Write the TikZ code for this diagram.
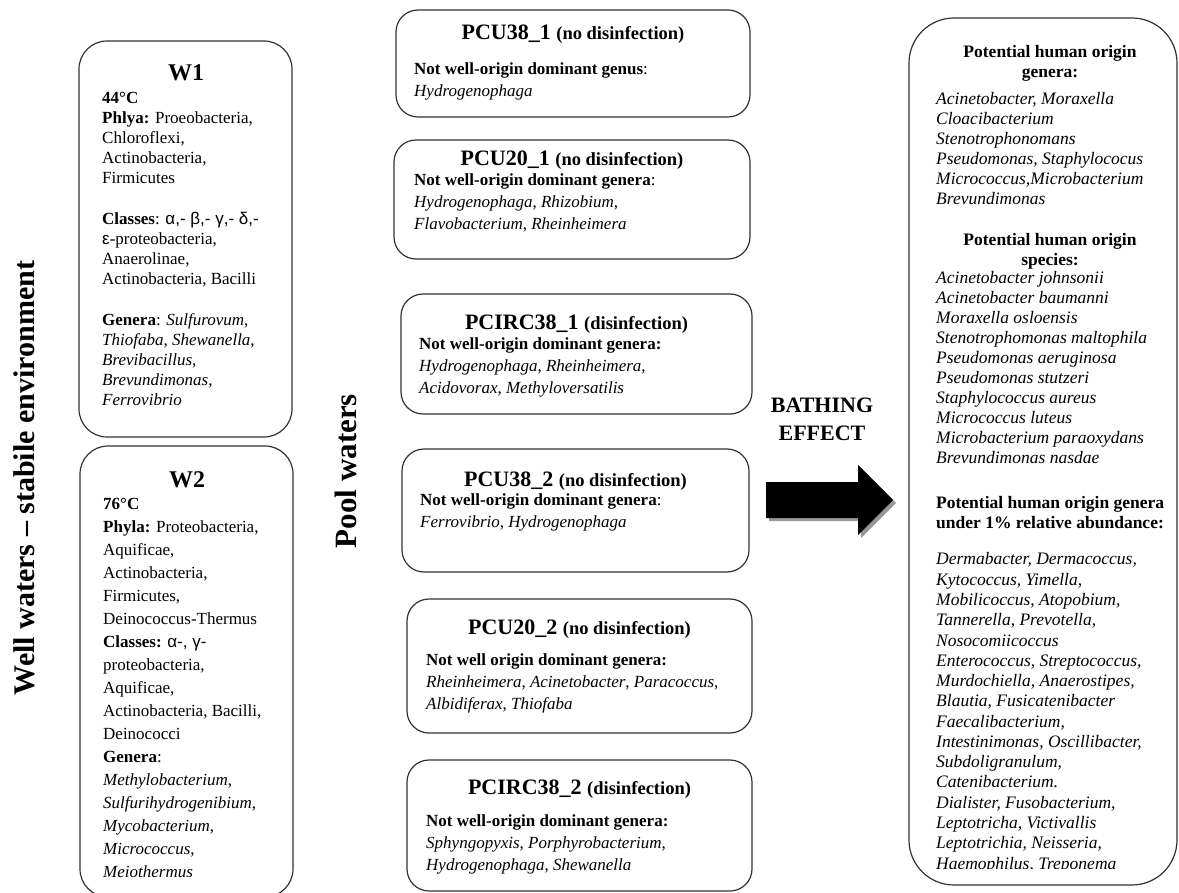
\documentclass[tikz,border=0pt]{standalone}
\usepackage{fontspec}
\setmainfont{Liberation Serif}
\newfontfamily\grk{Liberation Sans}
\begin{document}
\begin{tikzpicture}[x=1pt,y=-1pt,
  rbox/.style={draw=black!80, line width=1.2pt, rounded corners=#1, inner sep=0pt},
  rbox/.default=22pt,
  txt/.style={inner sep=0pt, anchor=base west, align=left, font=\fontsize{17}{20.2}\selectfont},
  wtxt/.style={txt, font=\fontsize{17}{23}\selectfont},
  ptxt/.style={txt, font=\fontsize{17}{22}\selectfont},
  ritxt/.style={txt, font=\itshape\fontsize{17.5}{20.1}\selectfont},
  rhead/.style={inner sep=0pt, anchor=base, align=center, font=\bfseries\fontsize{17.5}{20}\selectfont},
  wtitle/.style={inner sep=0pt, anchor=base, font=\bfseries\fontsize{24}{26}\selectfont},
  ptitle/.style={inner sep=0pt, anchor=base, font=\bfseries\fontsize{22}{24}\selectfont},
  side/.style={inner sep=0pt, rotate=90, font=\bfseries\fontsize{30}{32}\selectfont},
]
\newcommand\pn[1]{{\fontsize{18.5}{20}\selectfont #1}}
\fill[white] (0,0) rectangle (1179,893);
\useasboundingbox (0,0) rectangle (1179,893);

% side labels
\node[side] (lblwell) at (24,478) {Well waters – stabile environment};
\node[side, font=\bfseries\fontsize{31}{33}\selectfont] (lblpool) at (346,471) {Pool waters};

% well boxes
\node[rbox=28pt, minimum width=213pt, minimum height=396pt] (w1) at (185.5,239) {};
\node[rbox=28pt, minimum width=213pt, minimum height=451pt] (w2) at (186.5,671.5) {};
\node[wtitle] (w1h) at (186,81) {W1};
\node[wtitle] (w2h) at (187,487) {W2};
\node[txt] (w1t) at (102,406) {\textbf{44°C}\\
\textbf{Phlya:} Proeobacteria,\\
Chloroflexi,\\
Actinobacteria,\\
Firmicutes\\[20.2pt]
\textbf{Classes}: {\grk α,- β,- γ,- δ,-}\\
{\grk ε}-proteobacteria,\\
Anaerolinae,\\
Actinobacteria, Bacilli\\[20.2pt]
\textbf{Genera}: \textit{Sulfurovum},\\
\textit{Thiofaba}, \textit{Shewanella},\\
\textit{Brevibacillus},\\
\textit{Brevundimonas},\\
\textit{Ferrovibrio}};
\node[wtxt] (w2t) at (103,877) {\textbf{76°C}\\
\textbf{Phyla:} Proteobacteria,\\
Aquificae,\\
Actinobacteria,\\
Firmicutes,\\
Deinococcus-Thermus\\
\textbf{Classes:} {\grk α-, γ-}\\
proteobacteria,\\
Aquificae,\\
Actinobacteria, Bacilli,\\
Deinococci\\
\textbf{Genera}:\\
\textit{Methylobacterium},\\
\textit{Sulfurihydrogenibium},\\
\textit{Mycobacterium},\\
\textit{Micrococcus},\\
\textit{Meiothermus}};

% pool boxes
\node[rbox, minimum width=354pt, minimum height=107pt] (p1) at (573,63.5) {};
\node[rbox, minimum width=356pt, minimum height=119pt] (p2) at (572,199.5) {};
\node[rbox, minimum width=351pt, minimum height=120pt] (p3) at (576.5,354) {};
\node[rbox, minimum width=347pt, minimum height=123pt] (p4) at (575.5,510.5) {};
\node[rbox, minimum width=345pt, minimum height=134pt] (p5) at (579.5,666) {};
\node[rbox, minimum width=345pt, minimum height=131pt] (p6) at (579.5,825.5) {};

\node[ptitle] (p1h) at (573,40) {PCU38\_1 \pn{(no disinfection)}};
\node[ptitle] (p2h) at (572,166) {PCU20\_1 \pn{(no disinfection)}};
\node[ptitle] (p3h) at (576.5,330) {PCIRC38\_1 \pn{(disinfection)}};
\node[ptitle] (p4h) at (575.5,486) {PCU38\_2 \pn{(no disinfection)}};
\node[ptitle] (p5h) at (579.5,634) {PCU20\_2 \pn{(no disinfection)}};
\node[ptitle] (p6h) at (579.5,794) {PCIRC38\_2 \pn{(disinfection)}};

\node[ptxt] (p1t) at (414,97) {\textbf{Not well-origin dominant genus}:\\
\textit{Hydrogenophaga}};
\node[ptxt] (p2t) at (414,230) {\textbf{Not well-origin dominant genera}:\\
\textit{Hydrogenophaga}, \textit{Rhizobium},\\
\textit{Flavobacterium}, \textit{Rheinheimera}};
\node[ptxt] (p3t) at (419,394) {\textbf{Not well-origin dominant genera:}\\
\textit{Hydrogenophaga}, \textit{Rheinheimera},\\
\textit{Acidovorax}, \textit{Methyloversatilis}};
\node[ptxt] (p4t) at (420,527) {\textbf{Not well-origin dominant genera}:\\
\textit{Ferrovibrio}, \textit{Hydrogenophaga}};
\node[ptxt] (p5t) at (426,709) {\textbf{Not well origin dominant genera:}\\
\textit{Rheinheimera}, \textit{Acinetobacter}, \textit{Paracoccus},\\
\textit{Albidiferax}, \textit{Thiofaba}};
\node[ptxt] (p6t) at (426,870) {\textbf{Not well-origin dominant genera:}\\
\textit{Sphyngopyxis}, \textit{Porphyrobacterium},\\
\textit{Hydrogenophaga}, \textit{Shewanella}};

% bathing effect
\node[inner sep=0pt, anchor=base, align=center, font=\bfseries\fontsize{22}{28}\selectfont] (bath) at (822,440) {BATHING\\EFFECT};
\fill[black!40] (769,485) -- (861,485) -- (861,468) -- (896,503) -- (861,538) -- (861,521) -- (769,521) -- cycle;
\fill[black] (766,482) -- (858,482) -- (858,465) -- (893,500) -- (858,535) -- (858,518) -- (766,518) -- cycle;

% right box
\node[rbox=45pt, minimum width=268pt, minimum height=867pt] (rb) at (1043,451.5) {};
\node[rhead] (rh1) at (1050,78) {Potential human origin\\genera:};
\node[ritxt] (rl1) at (936,205) {Acinetobacter, Moraxella\\
Cloacibacterium\\
Stenotrophonomans\\
Pseudomonas, Staphylococus\\
Micrococcus,Microbacterium\\
Brevundimonas};
\node[rhead] (rh2) at (1050,266) {Potential human origin\\species:};
\node[ritxt] (rl2) at (936,464) {Acinetobacter johnsonii\\
Acinetobacter baumanni\\
Moraxella osloensis\\
Stenotrophomonas maltophila\\
Pseudomonas aeruginosa\\
Pseudomonas stutzeri\\
Staphylococcus aureus\\
Micrococcus luteus\\
Microbacterium paraoxydans\\
Brevundimonas nasdae};
\node[rhead, anchor=base west, align=left] (rh3) at (936,528) {Potential human origin genera\\under 1\% relative abundance:};
\begin{scope}
\clip (900,540) rectangle (1179,868);
\node[ritxt, font=\itshape\fontsize{17.5}{20.27}\selectfont] (rl3) at (936,869) {Dermabacter, Dermacoccus,\\
Kytococcus, Yimella,\\
Mobilicoccus, Atopobium,\\
Tannerella, Prevotella,\\
Nosocomiicoccus\\
Enterococcus, Streptococcus,\\
Murdochiella, Anaerostipes,\\
Blautia, Fusicatenibacter\\
Faecalibacterium,\\
Intestinimonas, Oscillibacter,\\
Subdoligranulum,\\
Catenibacterium.\\
Dialister, Fusobacterium,\\
Leptotricha, Victivallis\\
Leptotrichia, Neisseria,\\
Haemophilus, Treponema};
\end{scope}
\end{tikzpicture}
\end{document}
